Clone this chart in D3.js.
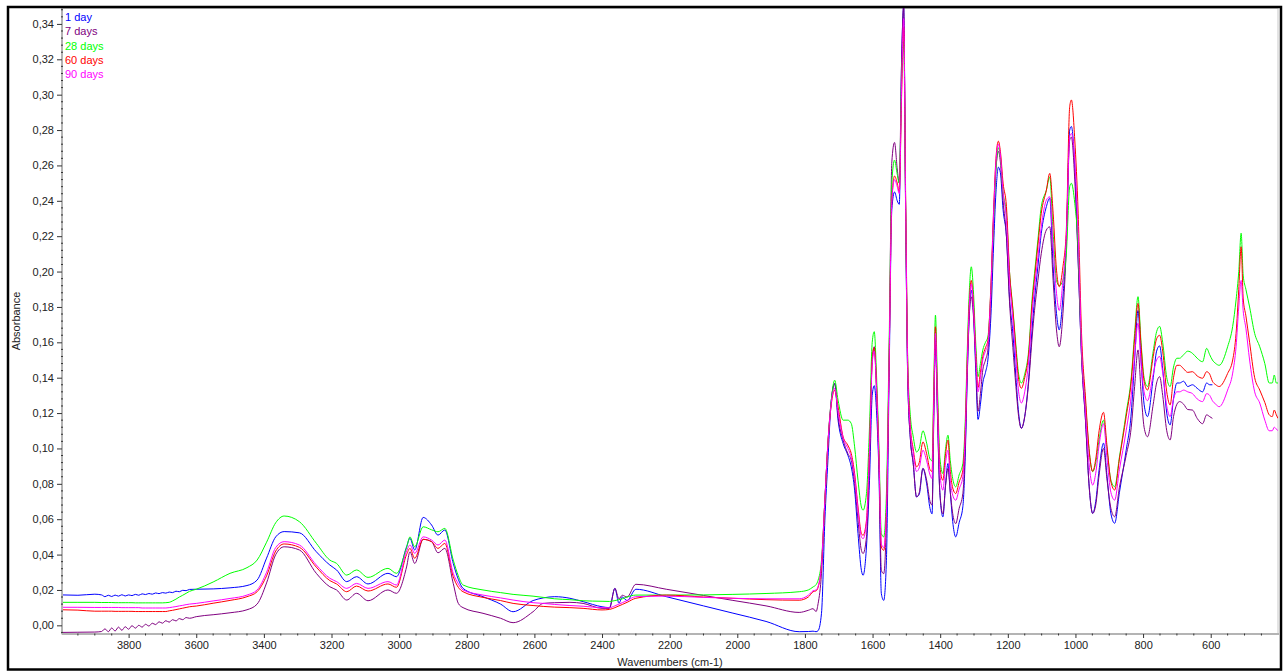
<!DOCTYPE html>
<html>
<head>
<meta charset="utf-8">
<script src="https://cdn.jsdelivr.net/npm/d3@7"></script>
<style>
  html, body { margin: 0; padding: 0; background: #fff; }
  svg { display: block; }
  text { font-family: "Liberation Sans", Arial, sans-serif; }
</style>
</head>
<body>
<svg id="chart" width="1284" height="671"></svg>
<script>
// Wavenumber sampling (cm-1), descending as on the instrument axis
const wavenumbers = [
  3997,3950,3900,
  3880,3870,3860,3850,3840,3830,3820,3810,3800,3790,3780,3770,3760,3750,3740,3730,3720,3710,3700,
  3690,3680,3670,3660,3650,3640,3630,3620,
  3600,3550,3500,3450,3420,3392,3365,3340,
  3295,3245,3205,3185,3155,3126,3092,3033,3008,2978,2968,2954,2929,2904,2885,2865,
  2840,2825,2811,2752,2700,2663,2604,2574,2540,2495,2456,2400,2378,2362,2350,2340,
  2326,2300,2210,2100,2013,1915,1817,1790,1776,1767,1761,1751,1741,1732,1722,1712,
  1702,1687,1673,1663,1653,1643,1633,1628,1618,1609,1601,1595,1588,1581,1574,1567,
  1559,1551,1543,1535,1527,1521,1514,1508,1502,1496,1488,1480,1470,1462,1451,1440,
  1430,1424,1419,1414,1408,1401,1392,1384,1377,1370,1362,1354,1344,1333,1326,1320,
  1314,1308,1302,1295,1288,1281,1274,1266,1259,1250,1242,1235,1228,1222,1214,1204,
  1195,1185,1176,1168,1160,1150,1138,1128,1121,1111,1101,1086,1076,1066,1056,1048,
  1037,1027,1017,1012,1002,992,982,970,960,949,940,930,917,907,895,884,
  870,850,835,825,815,806,797,787,770,760,751,742,730,720,710,700,
  692,680,668,654,640,624,612,603,595,585,575,550,535,525,517,510,
  504,496,485,470,455,440,427,418,412,406,401
];

// Absorbance per sample; null where no reading is taken for that spectrum
const day1 = [
  0.0172,0.0170,0.0176,
  0.0172,0.0162,0.0170,0.0163,0.0171,0.0165,0.0173,0.0166,0.0172,0.0168,0.0175,0.0170,0.0178,0.0174,0.0180,0.0176,0.0183,0.0179,0.0185,
  0.0182,0.0188,0.0185,0.0193,0.0190,0.0198,0.0196,0.0203,
  0.0204,0.0206,0.0212,0.0225,0.0256,0.0380,0.0500,0.0530,
  0.0523,0.0416,0.0341,0.0313,0.0247,0.0275,0.0234,0.0294,0.0275,0.0444,0.0492,0.0426,0.0610,0.0567,0.0510,0.0539,
  0.0350,0.0260,0.0209,0.0162,0.0120,0.0077,0.0140,0.0155,0.0162,0.0153,0.0134,0.0105,0.0100,0.0209,0.0125,0.0160,
  0.0140,0.0204,0.0162,0.0110,0.0069,0.0022,-0.0036,-0.0035,-0.0033,-0.0036,-0.0030,0.0068,0.0594,0.0933,0.1270,0.1367,
  0.1160,0.1028,0.0962,0.0896,0.0764,0.0519,0.0311,0.0283,0.0443,0.0820,0.1300,0.1355,0.1200,0.0850,0.0179,0.0141,
  0.0368,0.1400,0.2350,0.2450,0.2400,0.2380,0.3200,0.3500,0.2300,0.1400,0.1050,0.0920,0.0726,0.0740,0.0887,0.0800,
  0.0660,0.0630,0.1200,0.1620,0.1200,0.0750,0.0613,0.0800,0.0915,0.0750,0.0570,0.0500,0.0580,0.0670,0.0950,0.1400,
  0.1750,0.1895,0.1780,0.1450,0.1164,0.1250,0.1370,0.1430,0.1500,0.1750,0.2150,0.2450,0.2590,0.2560,0.2350,0.2197,
  0.1850,0.1650,0.1400,0.1200,0.1114,0.1180,0.1400,0.1680,0.1840,0.2030,0.2216,0.2367,0.2415,0.2027,0.1763,0.1670,
  0.1857,0.2178,0.2800,0.2820,0.2590,0.2065,0.1520,0.1150,0.0800,0.0633,0.0700,0.0880,0.1030,0.0850,0.0630,0.0577,
  0.0750,0.0990,0.1200,0.1500,0.1780,0.1500,0.1250,0.1180,0.1400,0.1550,0.1580,0.1450,0.1200,0.1133,0.1280,0.1370,
  0.1370,0.1380,0.1350,0.1360,0.1340,0.1320,0.1370,0.1360,0.1360,null,null,null,null,null,null,null,
  null,null,null,null,null,null,null,null,null,null,null
];
const day7 = [
  -0.0040,-0.0039,-0.0038,
  -0.0035,-0.0020,-0.0036,-0.0015,-0.0032,-0.0010,-0.0028,-0.0008,-0.0022,-0.0002,-0.0016,0.0000,-0.0010,0.0006,-0.0004,0.0012,0.0004,0.0020,0.0012,
  0.0026,0.0018,0.0032,0.0025,0.0038,0.0032,0.0044,0.0040,
  0.0049,0.0060,0.0071,0.0088,0.0120,0.0240,0.0400,0.0444,
  0.0426,0.0294,0.0218,0.0200,0.0143,0.0181,0.0139,0.0200,0.0181,0.0330,0.0416,0.0350,0.0486,0.0473,0.0410,0.0435,
  0.0237,0.0124,0.0100,0.0068,0.0040,0.0015,0.0077,0.0124,0.0128,0.0130,0.0124,0.0096,0.0096,0.0209,0.0150,0.0170,
  0.0160,0.0232,0.0204,0.0169,0.0141,0.0110,0.0073,0.0085,0.0094,0.0078,0.0123,0.0294,0.0707,0.1028,0.1273,0.1367,
  0.1180,0.1047,0.0971,0.0933,0.0802,0.0594,0.0424,0.0406,0.0500,0.0930,0.1500,0.1575,0.1300,0.0900,0.0311,0.0292,
  0.0600,0.1500,0.2620,0.2730,0.2580,0.2500,0.3200,0.3500,0.2300,0.1400,0.1050,0.0920,0.0726,0.0750,0.0887,0.0820,
  0.0700,0.0680,0.1150,0.1600,0.1180,0.0750,0.0630,0.0790,0.0887,0.0750,0.0620,0.0575,0.0660,0.0745,0.1000,0.1420,
  0.1750,0.1857,0.1760,0.1500,0.1210,0.1310,0.1443,0.1500,0.1556,0.1850,0.2300,0.2580,0.2680,0.2620,0.2400,0.2197,
  0.1830,0.1570,0.1350,0.1180,0.1114,0.1180,0.1380,0.1630,0.1780,0.1950,0.2103,0.2235,0.2253,0.1950,0.1670,0.1575,
  0.1763,0.2140,0.2744,0.2760,0.2518,0.2065,0.1520,0.1150,0.0800,0.0633,0.0680,0.0850,0.1000,0.0830,0.0660,0.0614,
  0.0780,0.0960,0.1120,0.1350,0.1557,0.1320,0.1120,0.1066,0.1250,0.1370,0.1406,0.1300,0.1100,0.1048,0.1180,0.1250,
  0.1265,0.1250,0.1220,0.1217,0.1170,0.1140,0.1190,0.1180,0.1170,null,null,null,null,null,null,null,
  null,null,null,null,null,null,null,null,null,null,null
];
const day28 = [
  0.0130,0.0130,0.0130,
  0.0129,0.0129,0.0129,0.0129,0.0128,0.0128,0.0128,0.0128,0.0128,0.0128,0.0127,0.0127,0.0127,0.0127,0.0127,0.0127,0.0127,0.0127,0.0127,
  0.0128,0.0130,0.0138,0.0148,0.0160,0.0170,0.0181,0.0192,
  0.0204,0.0245,0.0294,0.0326,0.0369,0.0470,0.0580,0.0618,
  0.0586,0.0464,0.0369,0.0350,0.0284,0.0313,0.0271,0.0322,0.0294,0.0440,0.0500,0.0444,0.0557,0.0540,0.0529,0.0548,
  0.0369,0.0280,0.0228,0.0200,0.0185,0.0175,0.0165,0.0158,0.0150,0.0145,0.0139,0.0136,0.0135,0.0140,0.0145,0.0150,
  0.0160,0.0171,0.0171,0.0172,0.0175,0.0180,0.0190,0.0200,0.0217,0.0230,0.0255,0.0368,0.0707,0.1028,0.1273,0.1386,
  0.1273,0.1160,0.1160,0.1141,0.1009,0.0820,0.0669,0.0651,0.0745,0.1122,0.1600,0.1660,0.1400,0.1000,0.0519,0.0500,
  0.0745,0.1600,0.2500,0.2630,0.2550,0.2500,0.3100,0.3300,0.2350,0.1500,0.1180,0.1070,0.0980,0.1000,0.1100,0.1030,
  0.0940,0.0930,0.1350,0.1754,0.1350,0.0950,0.0858,0.1000,0.1075,0.0930,0.0820,0.0783,0.0850,0.0915,0.1150,0.1550,
  0.1880,0.2027,0.1900,0.1600,0.1406,0.1480,0.1556,0.1600,0.1630,0.1900,0.2300,0.2580,0.2700,0.2650,0.2450,0.2320,
  0.2000,0.1790,0.1580,0.1420,0.1370,0.1420,0.1560,0.1850,0.1990,0.2180,0.2367,0.2460,0.2535,0.2218,0.1950,0.1920,
  0.1950,0.2103,0.2480,0.2499,0.2386,0.2140,0.1575,0.1250,0.1000,0.0869,0.0920,0.1050,0.1160,0.1000,0.0820,0.0784,
  0.0950,0.1200,0.1400,0.1650,0.1858,0.1600,0.1400,0.1350,0.1550,0.1660,0.1690,0.1600,0.1400,0.1350,0.1460,0.1510,
  0.1510,0.1530,0.1550,0.1538,0.1510,0.1490,0.1566,0.1530,0.1500,0.1480,0.1470,0.1575,0.1690,0.1840,0.2000,0.2217,
  0.1980,0.1900,0.1800,0.1650,0.1575,0.1480,0.1370,0.1370,0.1415,0.1370,0.1370
];
const day60 = [
  0.0088,0.0086,0.0080,
  0.0080,0.0080,0.0080,0.0080,0.0079,0.0079,0.0079,0.0079,0.0079,0.0079,0.0078,0.0078,0.0078,0.0078,0.0078,0.0078,0.0078,0.0078,0.0078,
  0.0078,0.0082,0.0085,0.0089,0.0093,0.0097,0.0101,0.0105,
  0.0109,0.0125,0.0141,0.0162,0.0190,0.0280,0.0420,0.0460,
  0.0441,0.0329,0.0253,0.0234,0.0190,0.0222,0.0194,0.0234,0.0215,0.0400,0.0435,0.0379,0.0486,0.0473,0.0435,0.0463,
  0.0275,0.0215,0.0190,0.0158,0.0140,0.0124,0.0112,0.0107,0.0103,0.0100,0.0096,0.0087,0.0090,0.0100,0.0110,0.0118,
  0.0130,0.0153,0.0171,0.0160,0.0153,0.0145,0.0142,0.0160,0.0190,0.0195,0.0215,0.0340,0.0707,0.1028,0.1250,0.1329,
  0.1235,0.1065,0.1018,0.0971,0.0858,0.0669,0.0519,0.0509,0.0594,0.1009,0.1500,0.1570,0.1350,0.0950,0.0443,0.0424,
  0.0650,0.1500,0.2400,0.2540,0.2500,0.2450,0.3000,0.3380,0.2400,0.1480,0.1120,0.1000,0.0896,0.0920,0.1037,0.0970,
  0.0880,0.0870,0.1300,0.1688,0.1280,0.0900,0.0820,0.0970,0.1047,0.0870,0.0770,0.0745,0.0810,0.0877,0.1100,0.1500,
  0.1820,0.1950,0.1830,0.1550,0.1345,0.1430,0.1520,0.1570,0.1610,0.1920,0.2350,0.2640,0.2737,0.2680,0.2500,0.2367,
  0.2000,0.1780,0.1560,0.1390,0.1340,0.1400,0.1540,0.1820,0.1960,0.2150,0.2330,0.2460,0.2555,0.2330,0.2008,0.1914,
  0.2027,0.2235,0.2932,0.2970,0.2744,0.2330,0.1650,0.1280,0.1000,0.0870,0.0940,0.1100,0.1204,0.1020,0.0810,0.0765,
  0.0940,0.1180,0.1380,0.1620,0.1820,0.1580,0.1380,0.1330,0.1520,0.1620,0.1640,0.1550,0.1320,0.1246,0.1400,0.1470,
  0.1470,0.1450,0.1430,0.1434,0.1410,0.1397,0.1434,0.1420,0.1380,0.1360,0.1350,0.1424,0.1500,0.1650,0.1900,0.2140,
  0.1850,0.1750,0.1600,0.1400,0.1330,0.1260,0.1190,0.1180,0.1217,0.1190,0.1170
];
const day90 = [
  0.0102,0.0102,0.0101,
  0.0101,0.0101,0.0101,0.0101,0.0101,0.0101,0.0100,0.0100,0.0100,0.0100,0.0100,0.0100,0.0098,0.0098,0.0098,0.0098,0.0098,0.0098,0.0098,
  0.0098,0.0100,0.0103,0.0106,0.0110,0.0113,0.0117,0.0120,
  0.0124,0.0138,0.0152,0.0171,0.0200,0.0300,0.0440,0.0473,
  0.0454,0.0341,0.0266,0.0247,0.0209,0.0237,0.0209,0.0247,0.0228,0.0420,0.0454,0.0407,0.0500,0.0482,0.0454,0.0482,
  0.0294,0.0235,0.0200,0.0171,0.0155,0.0143,0.0128,0.0124,0.0118,0.0112,0.0108,0.0100,0.0100,0.0110,0.0120,0.0128,
  0.0140,0.0162,0.0165,0.0158,0.0153,0.0150,0.0150,0.0170,0.0195,0.0200,0.0220,0.0350,0.0707,0.1028,0.1260,0.1340,
  0.1210,0.1060,0.1000,0.0950,0.0840,0.0650,0.0500,0.0490,0.0580,0.0990,0.1480,0.1550,0.1330,0.0930,0.0460,0.0440,
  0.0630,0.1500,0.2400,0.2520,0.2480,0.2440,0.3050,0.3430,0.2350,0.1450,0.1100,0.0980,0.0870,0.0890,0.0990,0.0930,
  0.0850,0.0830,0.1250,0.1650,0.1250,0.0860,0.0764,0.0920,0.0990,0.0820,0.0730,0.0707,0.0770,0.0840,0.1070,0.1470,
  0.1800,0.1930,0.1810,0.1530,0.1320,0.1400,0.1500,0.1550,0.1590,0.1900,0.2330,0.2620,0.2720,0.2660,0.2450,0.2290,
  0.1950,0.1726,0.1500,0.1320,0.1257,0.1320,0.1500,0.1770,0.1910,0.2080,0.2253,0.2404,0.2423,0.2140,0.1877,0.1780,
  0.1950,0.2200,0.2763,0.2780,0.2630,0.2210,0.1575,0.1200,0.0920,0.0793,0.0860,0.1020,0.1140,0.0950,0.0750,0.0708,
  0.0880,0.1100,0.1300,0.1520,0.1708,0.1480,0.1320,0.1270,0.1420,0.1500,0.1520,0.1430,0.1240,0.1180,0.1280,0.1320,
  0.1320,0.1330,0.1320,0.1310,0.1280,0.1265,0.1310,0.1300,0.1270,0.1250,0.1236,0.1330,0.1426,0.1575,0.1800,0.1950,
  0.1780,0.1680,0.1500,0.1320,0.1257,0.1160,0.1100,0.1100,0.1120,0.1110,0.1100
];

const seriesNames = ["1 day", "7 days", "28 days", "60 days", "90 days"];
const seriesColors = ["#0000ff", "#800080", "#00ff00", "#ff0000", "#ff00ff"];
const seriesValues = [day1, day7, day28, day60, day90];

const xTicks = [3800, 3600, 3400, 3200, 3000, 2800, 2600, 2400, 2200, 2000, 1800, 1600, 1400, 1200, 1000, 800, 600];
const yTicks = [0.00, 0.02, 0.04, 0.06, 0.08, 0.10, 0.12, 0.14, 0.16, 0.18, 0.20, 0.22, 0.24, 0.26, 0.28, 0.30, 0.32, 0.34];

const svg = d3.select("#chart");
const W = 1284, H = 671;
const plot = { left: 62, right: 1278, top: 8, bottom: 634 };

svg.append("rect").attr("width", W).attr("height", H).attr("fill", "#fff");

const x = d3.scaleLinear().domain([3997, 401]).range([plot.left, plot.right]);
const y = d3.scaleLinear().domain([-0.0049, 0.349]).range([plot.bottom, plot.top]);

// plot frame
svg.append("rect")
  .attr("x", plot.left).attr("y", plot.top + 0.5)
  .attr("width", plot.right - plot.left).attr("height", plot.bottom - plot.top)
  .attr("fill", "none").attr("stroke", "#c8c8c8").attr("stroke-width", 1);

svg.append("clipPath").attr("id", "plotclip")
  .append("rect")
  .attr("x", plot.left).attr("y", plot.top)
  .attr("width", plot.right - plot.left).attr("height", plot.bottom - plot.top);

// spectra
const line = d3.line()
  .x(d => x(d[0]))
  .y(d => y(d[1]))
  .curve(d3.curveMonotoneX);

const gLines = svg.append("g").attr("clip-path", "url(#plotclip)");
seriesValues.forEach((vals, i) => {
  const pts = wavenumbers.map((w, k) => [w, vals[k]]).filter(p => p[1] !== null);
  gLines.append("path")
    .datum(pts)
    .attr("d", line)
    .attr("fill", "none")
    .attr("stroke", seriesColors[i])
    .attr("stroke-width", 1);
});

// x axis
const xAxisG = svg.append("g").attr("transform", `translate(0,${plot.bottom})`);
xAxisG.call(d3.axisBottom(x).tickValues(xTicks).tickSize(4).tickPadding(3).tickFormat(d3.format("d")));
xAxisG.select(".domain").remove();
xAxisG.selectAll(".tick line").attr("stroke", "#333");
xAxisG.selectAll(".tick text").attr("font-size", 11).attr("fill", "#222")
  .attr("font-family", "'Liberation Sans', Arial, sans-serif");
xAxisG.insert("line", ":first-child")
  .attr("x1", plot.left).attr("x2", plot.right + 1)
  .attr("y1", 0).attr("y2", 0)
  .attr("stroke", "#b4b4b4").attr("stroke-width", 2);
const xMinor = d3.range(3950, 400, -50).filter(v => v % 200 !== 0);
xAxisG.selectAll(".minor").data(xMinor).enter().append("line")
  .attr("class", "minor")
  .attr("x1", d => x(d)).attr("x2", d => x(d))
  .attr("y1", -0.5).attr("y2", 1.5)
  .attr("stroke", "#333").attr("stroke-width", 1);

// y axis
const yAxisG = svg.append("g").attr("transform", `translate(${plot.left},0)`);
yAxisG.call(d3.axisLeft(y).tickValues(yTicks).tickSize(5).tickPadding(3)
  .tickFormat(d => d3.format(".2f")(d).replace(".", ",")));
yAxisG.select(".domain").remove();
yAxisG.selectAll(".tick line").attr("stroke", "#333");
yAxisG.selectAll(".tick text").attr("font-size", 11).attr("fill", "#222")
  .attr("font-family", "'Liberation Sans', Arial, sans-serif");
yAxisG.insert("line", ":first-child")
  .attr("x1", 0).attr("x2", 0)
  .attr("y1", plot.top).attr("y2", plot.bottom)
  .attr("stroke", "#b4b4b4").attr("stroke-width", 2);
const yMinor = d3.range(-0.004, 0.349, 0.004).filter(v => Math.abs(Math.round(v * 50) - v * 50) > 1e-6);
yAxisG.selectAll(".minor").data(yMinor).enter().append("line")
  .attr("class", "minor")
  .attr("x1", -1).attr("x2", 1)
  .attr("y1", d => y(d)).attr("y2", d => y(d))
  .attr("stroke", "#333").attr("stroke-width", 1);

// axis titles
svg.append("text")
  .attr("x", (plot.left + plot.right) / 2).attr("y", 666)
  .attr("text-anchor", "middle").attr("font-size", 11).attr("fill", "#222")
  .text("Wavenumbers (cm-1)");
svg.append("text")
  .attr("transform", `translate(20,${(plot.top + plot.bottom) / 2}) rotate(-90)`)
  .attr("text-anchor", "middle").attr("font-size", 11).attr("fill", "#222")
  .text("Absorbance");

// legend
seriesNames.forEach((name, i) => {
  svg.append("text")
    .attr("x", 65).attr("y", 21 + i * 14.3)
    .attr("font-size", 11).attr("fill", seriesColors[i])
    .text(name);
});

// outer frame
svg.append("rect")
  .attr("x", 8).attr("y", 7).attr("width", 1273).attr("height", 662.5)
  .attr("fill", "none").attr("stroke", "#000").attr("stroke-width", 2.5);
</script>
</body>
</html>
